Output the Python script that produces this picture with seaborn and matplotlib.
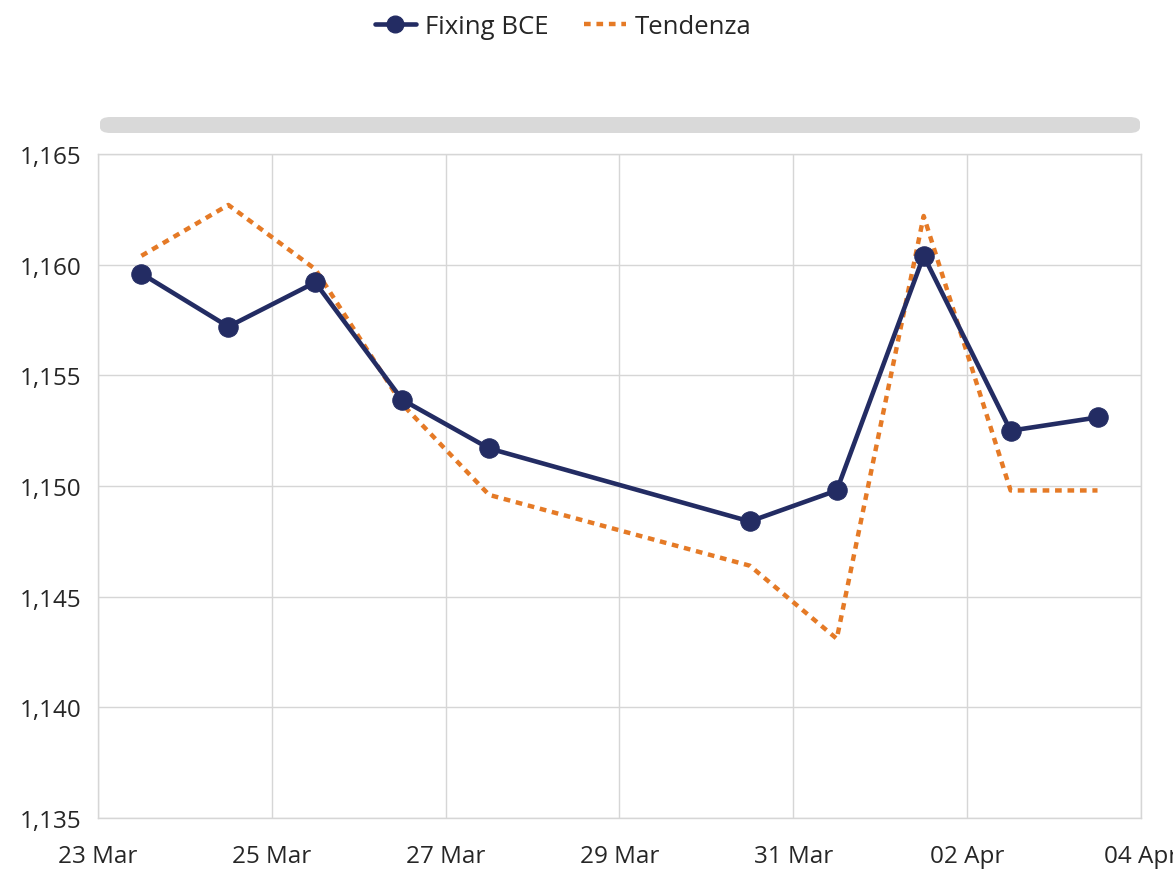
import matplotlib
matplotlib.use("Agg")
import matplotlib.pyplot as plt
import matplotlib.dates as mdates
from matplotlib.ticker import FuncFormatter, MultipleLocator
from matplotlib.patches import FancyBboxPatch
from matplotlib.lines import Line2D
import pandas as pd
import seaborn as sns

# EUR/USD reference rates and trend line
dates = ["2025-03-23 12:00", "2025-03-24 12:00", "2025-03-25 12:00", "2025-03-26 12:00",
         "2025-03-27 12:00", "2025-03-30 12:00", "2025-03-31 12:00", "2025-04-01 12:00",
         "2025-04-02 12:00", "2025-04-03 12:00"]
fixing_bce = [1.1596, 1.1572, 1.1592, 1.1539, 1.1517, 1.1484, 1.1498, 1.1604, 1.1525, 1.1531]
tendenza = [1.1604, 1.1627, 1.1598, 1.1537, 1.1496, 1.1464, 1.1431, 1.1622, 1.1498, 1.1498]
series_names = ["Fixing BCE", "Tendenza"]

NAVY = "#232c63"
ORANGE = "#e57a26"
GRID = "#d6d6d6"
TEXT = "#262626"
DASH = (0, (1.5, 1.3))

sns.set_theme(style="white")
plt.rcParams["font.family"] = ["Open Sans", "DejaVu Sans"]

df = pd.DataFrame({"data": pd.to_datetime(dates), "fix": fixing_bce, "trend": tendenza})

fig = plt.figure(figsize=(11.73, 8.70), dpi=100)
ax = fig.add_axes([0.0835, 0.0586, 0.8892, 0.7632])

sns.lineplot(data=df, x="data", y="trend", ax=ax, color=ORANGE, linewidth=3.2,
             linestyle=DASH, zorder=3)
sns.lineplot(data=df, x="data", y="fix", ax=ax, color=NAVY, linewidth=3.3,
             marker="o", markersize=14, markeredgecolor=NAVY, zorder=4)

ax.set_xlim(pd.Timestamp("2025-03-23"), pd.Timestamp("2025-04-04"))
ax.set_ylim(1.135, 1.165)
ax.yaxis.set_major_locator(MultipleLocator(0.005))
ax.yaxis.set_major_formatter(FuncFormatter(lambda v, p: f"{v:.3f}".replace(".", ",")))
ax.xaxis.set_major_locator(mdates.DayLocator(bymonthday=[23, 25, 27, 29, 31, 2, 4]))
ax.xaxis.set_major_formatter(mdates.DateFormatter("%d %b"))

ax.grid(True, color=GRID, linewidth=1)
for s in ax.spines.values():
    s.set_color(GRID)
    s.set_linewidth(1)
ax.set_xlabel("")
ax.set_ylabel("")
ax.tick_params(axis="both", labelsize=17.5, colors=TEXT, length=0)
ax.tick_params(axis="y", pad=12)
ax.tick_params(axis="x", pad=19)

# scroll bar above the plot area
bar = FancyBboxPatch((100 / 1173, 1 - 134 / 870), (1140 - 100) / 1173, 16 / 870,
                     boxstyle="round,pad=0,rounding_size=0.009", transform=fig.transFigure,
                     facecolor="#d9d9d9", edgecolor="none", mutation_aspect=870 / 1173)
fig.patches.append(bar)

handles = [
    Line2D([], [], color=NAVY, linewidth=3.3, marker="o", markersize=12),
    Line2D([], [], color=ORANGE, linewidth=3.2, linestyle=DASH),
]
fig.legend(handles, series_names, loc="center", bbox_to_anchor=(0.48, 0.968), ncol=2,
           frameon=False, fontsize=18.5, handlelength=1.6, columnspacing=1.4,
           handletextpad=0.35, labelcolor=TEXT)

fig.savefig("out.png", dpi=100)
